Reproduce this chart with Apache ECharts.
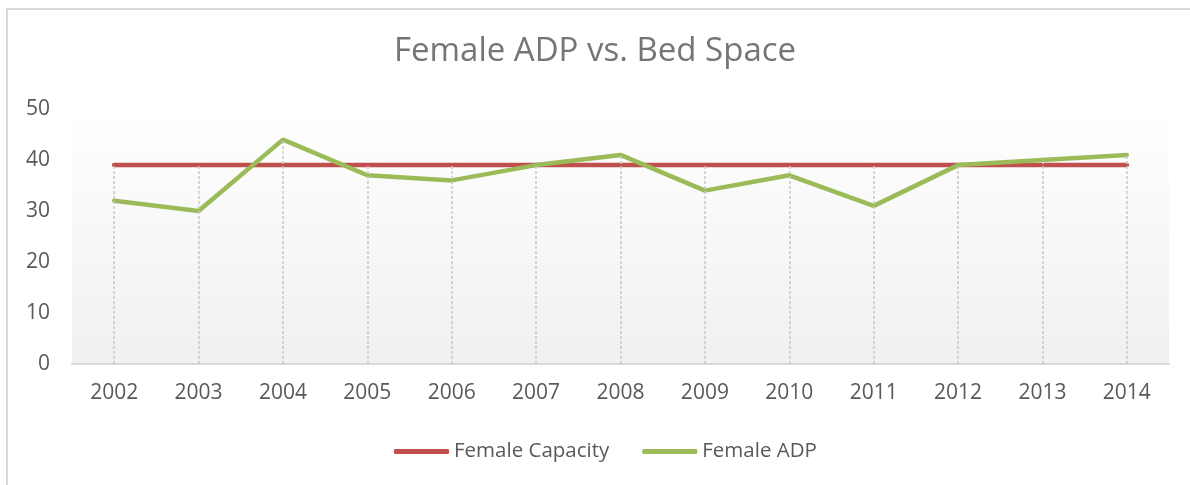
<!DOCTYPE html>
<html>
<head>
<meta charset="utf-8">
<title>Female ADP vs. Bed Space</title>
<script src="https://cdn.jsdelivr.net/npm/echarts@6/dist/echarts.min.js"></script>
<style>
  html, body { margin: 0; padding: 0; background: #fff; }
  #frame {
    position: absolute; left: 6px; top: 8px; right: 0; bottom: 0;
    border-left: 2px solid #d9d9d9; border-top: 2px solid #d9d9d9;
  }
  #chart { position: absolute; left: 0; top: 0; width: 1190px; height: 485px; }
</style>
</head>
<body>
<div id="frame"></div>
<div id="chart"></div>
<script>
// chart data
const years = ['2002', '2003', '2004', '2005', '2006', '2007', '2008', '2009', '2010', '2011', '2012', '2013', '2014']
const femaleCapacity = [39, 39, 39, 39, 39, 39, 39, 39, 39, 39, 39, 39, 39]
const femaleADP = [32, 30, 44, 37, 36, 39, 41, 34, 37, 31, 39, 40, 41]
const yTicks = { min: 0, max: 50, interval: 10 }

const chart = echarts.init(document.getElementById('chart'))

// drop lines: from the axis up to the higher of the two series
const dropLines = years.map((y, i) => [
  { coord: [y, 0] },
  { coord: [y, Math.max(femaleCapacity[i], femaleADP[i])] }
])

const font = '"Open Sans", "Noto Sans", sans-serif'

const option = {
  animation: false,
  title: {
    text: 'Female ADP vs. Bed Space',
    left: 'center',
    top: 30,
    textStyle: { fontFamily: font, fontSize: 33, fontWeight: 'normal', color: '#757575' }
  },
  legend: {
    data: ['Female Capacity', 'Female ADP'],
    left: 389,
    top: 436,
    itemWidth: 55,
    itemHeight: 5,
    itemGap: 33,
    icon: 'roundRect',
    textStyle: { fontFamily: font, fontSize: 20.5, color: '#595959' }
  },
  grid: {
    left: 72,
    right: 21,
    top: 109,
    bottom: 121,
    show: true,
    borderWidth: 0,
    backgroundColor: new echarts.graphic.LinearGradient(0, 0, 0, 1, [
      { offset: 0, color: '#ffffff' },
      { offset: 1, color: '#f0f0f0' }
    ])
  },
  xAxis: {
    type: 'category',
    data: years,
    boundaryGap: true,
    axisLine: { lineStyle: { color: '#d9d9d9', width: 2 } },
    axisTick: { show: false },
    splitLine: { show: false },
    axisLabel: { color: '#595959', fontFamily: font, fontSize: 21, margin: 19 }
  },
  yAxis: {
    type: 'value',
    min: yTicks.min,
    max: yTicks.max,
    interval: yTicks.interval,
    axisLine: { show: false },
    axisTick: { show: false },
    splitLine: { show: false },
    axisLabel: { color: '#595959', fontFamily: font, fontSize: 21, margin: 22 }
  },
  series: [
    {
      name: 'drops',
      type: 'line',
      data: [],
      z: 1,
      silent: true,
      markLine: {
        silent: true,
        symbol: 'none',
        label: { show: false },
        lineStyle: { color: '#c8c8c8', type: [3, 2], width: 1.5 },
        data: dropLines
      }
    },
    {
      name: 'Female Capacity',
      type: 'line',
      data: femaleCapacity,
      z: 2,
      showSymbol: false,
      lineStyle: { color: '#c0504d', width: 4.5, cap: 'round' },
      itemStyle: { color: '#c0504d' }
    },
    {
      name: 'Female ADP',
      type: 'line',
      data: femaleADP,
      z: 3,
      showSymbol: false,
      lineStyle: { color: '#9bbb59', width: 4.5, cap: 'round' },
      itemStyle: { color: '#9bbb59' }
    }
  ]
}

chart.setOption(option)
</script>
</body>
</html>
